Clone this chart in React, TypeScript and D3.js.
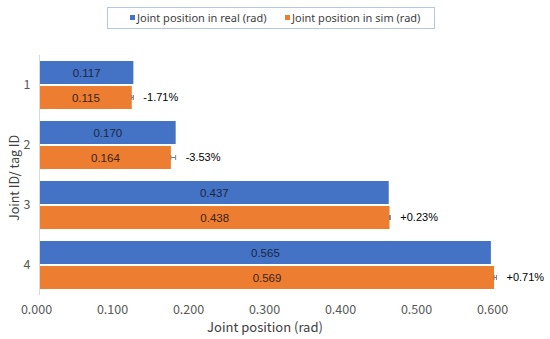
import React, { useEffect, useRef } from 'react';
import * as d3 from 'd3';

const joints = ['1', '2', '3', '4'];
const realValues = [0.117, 0.17, 0.437, 0.565];
const simValues = [0.115, 0.164, 0.438, 0.569];
const simErrors = [0.002, 0.006, 0.001, 0.003];
const diffLabels = ['-1.71%', '-3.53%', '+0.23%', '+0.71%'];
const xTicks = [0, 0.1, 0.2, 0.3, 0.4, 0.5, 0.6];
const seriesNames = ['Joint position in real (rad)', 'Joint position in sim (rad)'];

const BLUE = '#4472C4';
const ORANGE = '#ED7D31';

const App: React.FC = () => {
  const svgRef = useRef<SVGSVGElement>(null);
  const width = 550;
  const height = 339;

  useEffect(() => {
    document.body.style.margin = '0';
    if (!svgRef.current) return;
    const svg = d3.select(svgRef.current);
    svg.selectAll('*').remove();

    const plot = { left: 40, top: 55, bottom: 295 };

    // bars are measured against this scale
    const x = d3.scaleLinear().domain([0, 0.6]).range([plot.left, plot.left + 0.6 * 798]);
    // tick labels in the source sit on a slightly narrower spacing
    const xLabel = d3.scaleLinear().domain([0, 0.6]).range([36.5, 492.5]);

    const y = d3.scaleBand().domain(joints).range([plot.top, plot.bottom]).paddingInner(0.2).paddingOuter(0.1);
    const inner = d3.scaleBand().domain(['real', 'sim']).range([0, y.bandwidth()]).paddingInner(0.08);

    const axisFont = '"Noto Sans CJK SC", "Noto Sans", sans-serif';
    const legendFont = '"Noto Sans", sans-serif';
    const dataFont = '"Liberation Sans", Arial, sans-serif';

    // legend
    const legend = svg.append('g');
    legend.append('rect')
      .attr('x', 107.5).attr('y', 7.5).attr('width', 327).attr('height', 21)
      .attr('fill', '#fff').attr('stroke', '#B4C7E7');
    const legendX = [130, 285];
    seriesNames.forEach((name, i) => {
      legend.append('rect')
        .attr('x', legendX[i]).attr('y', 15).attr('width', 5).attr('height', 5)
        .attr('fill', i === 0 ? BLUE : ORANGE);
      legend.append('text')
        .attr('x', legendX[i] + 7).attr('y', 22)
        .attr('font-family', legendFont).attr('font-size', 11).attr('fill', '#404040')
        .text(name);
    });

    const g = svg.append('g');

    // bars
    joints.forEach((j, i) => {
      const y0 = y(j)!;
      const rows = [
        { key: 'real', v: realValues[i], color: BLUE, ink: '#1C2740' },
        { key: 'sim', v: simValues[i], color: ORANGE, ink: '#3A2414' },
      ];
      rows.forEach(r => {
        const by = y0 + inner(r.key)!;
        g.append('rect')
          .attr('x', x(0)).attr('y', by)
          .attr('width', x(r.v) - x(0)).attr('height', inner.bandwidth())
          .attr('fill', r.color);
        g.append('text')
          .attr('x', (x(0) + x(r.v)) / 2).attr('y', by + inner.bandwidth() / 2)
          .attr('dy', '0.35em').attr('text-anchor', 'middle')
          .attr('font-family', dataFont).attr('font-size', 11.5).attr('fill', r.ink)
          .text(r.v.toFixed(3));
      });

      // error bar on sim
      const sy = y0 + inner('sim')! + inner.bandwidth() / 2;
      const e0 = x(simValues[i]);
      const e1 = x(simValues[i] + simErrors[i]);
      const eb = g.append('g').attr('stroke', '#7F7F7F').attr('stroke-width', 1);
      eb.append('line').attr('x1', e0).attr('x2', e1).attr('y1', sy).attr('y2', sy);
      [e0, e1].forEach(ex => {
        eb.append('line').attr('x1', ex).attr('x2', ex).attr('y1', sy - 2.5).attr('y2', sy + 2.5);
      });

      g.append('text')
        .attr('x', e1 + 10).attr('y', sy)
        .attr('dy', '0.35em')
        .attr('font-family', dataFont).attr('font-size', 11).attr('fill', '#000')
        .text(diffLabels[i]);

      // category label
      g.append('text')
        .attr('x', 27).attr('y', y0 + y.bandwidth() / 2)
        .attr('dy', '0.35em').attr('text-anchor', 'middle')
        .attr('font-family', axisFont).attr('font-size', 12.5).attr('fill', '#595959')
        .text(j);
    });

    // vertical axis line
    g.append('line')
      .attr('x1', x(0) - 0.5).attr('x2', x(0) - 0.5)
      .attr('y1', plot.top).attr('y2', plot.bottom)
      .attr('stroke', '#D9D9D9');

    // x tick labels
    g.selectAll('.xtick')
      .data(xTicks)
      .join('text')
      .attr('x', d => xLabel(d)).attr('y', 313.5)
      .attr('text-anchor', 'middle')
      .attr('font-family', axisFont).attr('font-size', 12.5).attr('fill', '#595959')
      .text(d => d3.format('.3f')(d));

    // axis titles
    svg.append('text')
      .attr('x', 265).attr('y', 332)
      .attr('text-anchor', 'middle')
      .attr('font-family', axisFont).attr('font-size', 13).attr('fill', '#404040')
      .text('Joint position (rad)');

    svg.append('text')
      .attr('transform', `translate(19,${(plot.top + plot.bottom) / 2 + 3}) rotate(-90)`)
      .attr('text-anchor', 'middle')
      .attr('font-family', axisFont).attr('font-size', 12.5).attr('fill', '#404040')
      .text('Joint ID/ tag ID');
  }, []);

  return <svg ref={svgRef} width={width} height={height} style={{ display: 'block', background: '#fff' }} />;
};

export default App;
